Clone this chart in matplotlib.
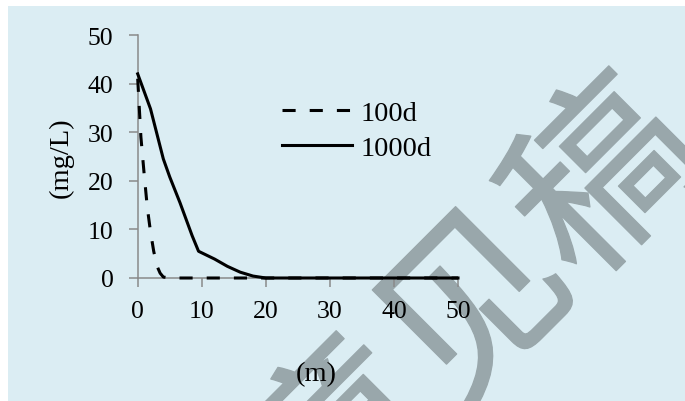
import matplotlib
matplotlib.use("Agg")
import matplotlib.pyplot as plt
import matplotlib.patheffects as pe
from matplotlib.patches import Rectangle

# Concentration profiles along distance
dist_100d = [0, 0.5, 1, 1.5, 2, 2.5, 3, 3.5, 4, 5, 10, 20, 30, 40, 50]
conc_100d = [41, 29, 21.5, 14.5, 9.5, 5.5, 2.5, 1.0, 0.2, 0, 0, 0, 0, 0, 0]

dist_1000d = [0, 2, 4, 5, 6.6, 8.5, 9.5, 12, 14, 16, 18, 20, 30, 40, 50]
conc_1000d = [42, 34.8, 24.5, 20.8, 15.5, 8.7, 5.5, 3.9, 2.4, 1.2, 0.4, 0, 0, 0, 0]

series_labels = ["100d", "1000d"]
x_ticks = [0, 10, 20, 30, 40, 50]
y_ticks = [0, 10, 20, 30, 40, 50]
x_label = "(m)"
y_label = "(mg/L)"
stamp = "意见稿"

W, H = 685, 402
fig = plt.figure(figsize=(W / 100, H / 100), dpi=100, facecolor="white")

serif = ["Liberation Serif", "DejaVu Serif"]
bg = "#dbedf3"
axis_gray = "#8a8a8a"
stamp_gray = "#99a7ab"

# light blue panel
fig.patches.append(Rectangle((8 / W, 0), 1 - 8 / W, 1 - 7 / H,
                             transform=fig.transFigure, facecolor=bg,
                             edgecolor="none", zorder=-3))

# stamp text behind the chart
fig.text(479 / W, 1 - 314 / H, stamp, rotation=45, rotation_mode="anchor",
         ha="center", va="center", fontsize=132, color=stamp_gray,
         family=["Noto Sans CJK SC", "DejaVu Sans"], fontweight="normal",
         zorder=-2,
         path_effects=[pe.withStroke(linewidth=1, foreground=stamp_gray)])

ax = fig.add_axes([137.7 / W, (H - 279) / H, 320.3 / W, 243 / H])
ax.patch.set_visible(False)
ax.set_xlim(0, 50)
ax.set_ylim(0, 50)

ax.plot(dist_100d, conc_100d, color="black", lw=2.2, dashes=(4.3, 4.6),
        label=series_labels[0], clip_on=False, zorder=3)
ax.plot(dist_1000d, conc_1000d, color="black", lw=2.2,
        label=series_labels[1], clip_on=False, zorder=4)

for s in ["top", "right"]:
    ax.spines[s].set_visible(False)
for s in ["left", "bottom"]:
    ax.spines[s].set_color(axis_gray)
    ax.spines[s].set_linewidth(1.1)

ax.set_xticks(x_ticks)
ax.set_yticks(y_ticks)
ax.tick_params(axis="both", direction="out", length=6.5, width=1.1,
               color=axis_gray, labelsize=18.5, labelcolor="black")
ax.tick_params(axis="y", pad=11)
ax.tick_params(axis="x", pad=9)
for lab in ax.get_xticklabels() + ax.get_yticklabels():
    lab.set_family(serif)

leg = ax.legend(loc="center left", bbox_to_anchor=(0.4496, 0.607),
                frameon=False, borderpad=0, borderaxespad=0,
                handlelength=2.46, handletextpad=0.3, labelspacing=0.3,
                prop={"family": serif, "size": 20.5})

fig.text(316 / W, 1 - 375 / H, x_label, ha="center", va="center",
         fontsize=20.5, family=serif)
fig.text(61 / W, 1 - 158 / H, y_label, ha="center", va="center",
         rotation=90, fontsize=20.5, family=serif)

fig.savefig("out.png", dpi=100, facecolor="white")
